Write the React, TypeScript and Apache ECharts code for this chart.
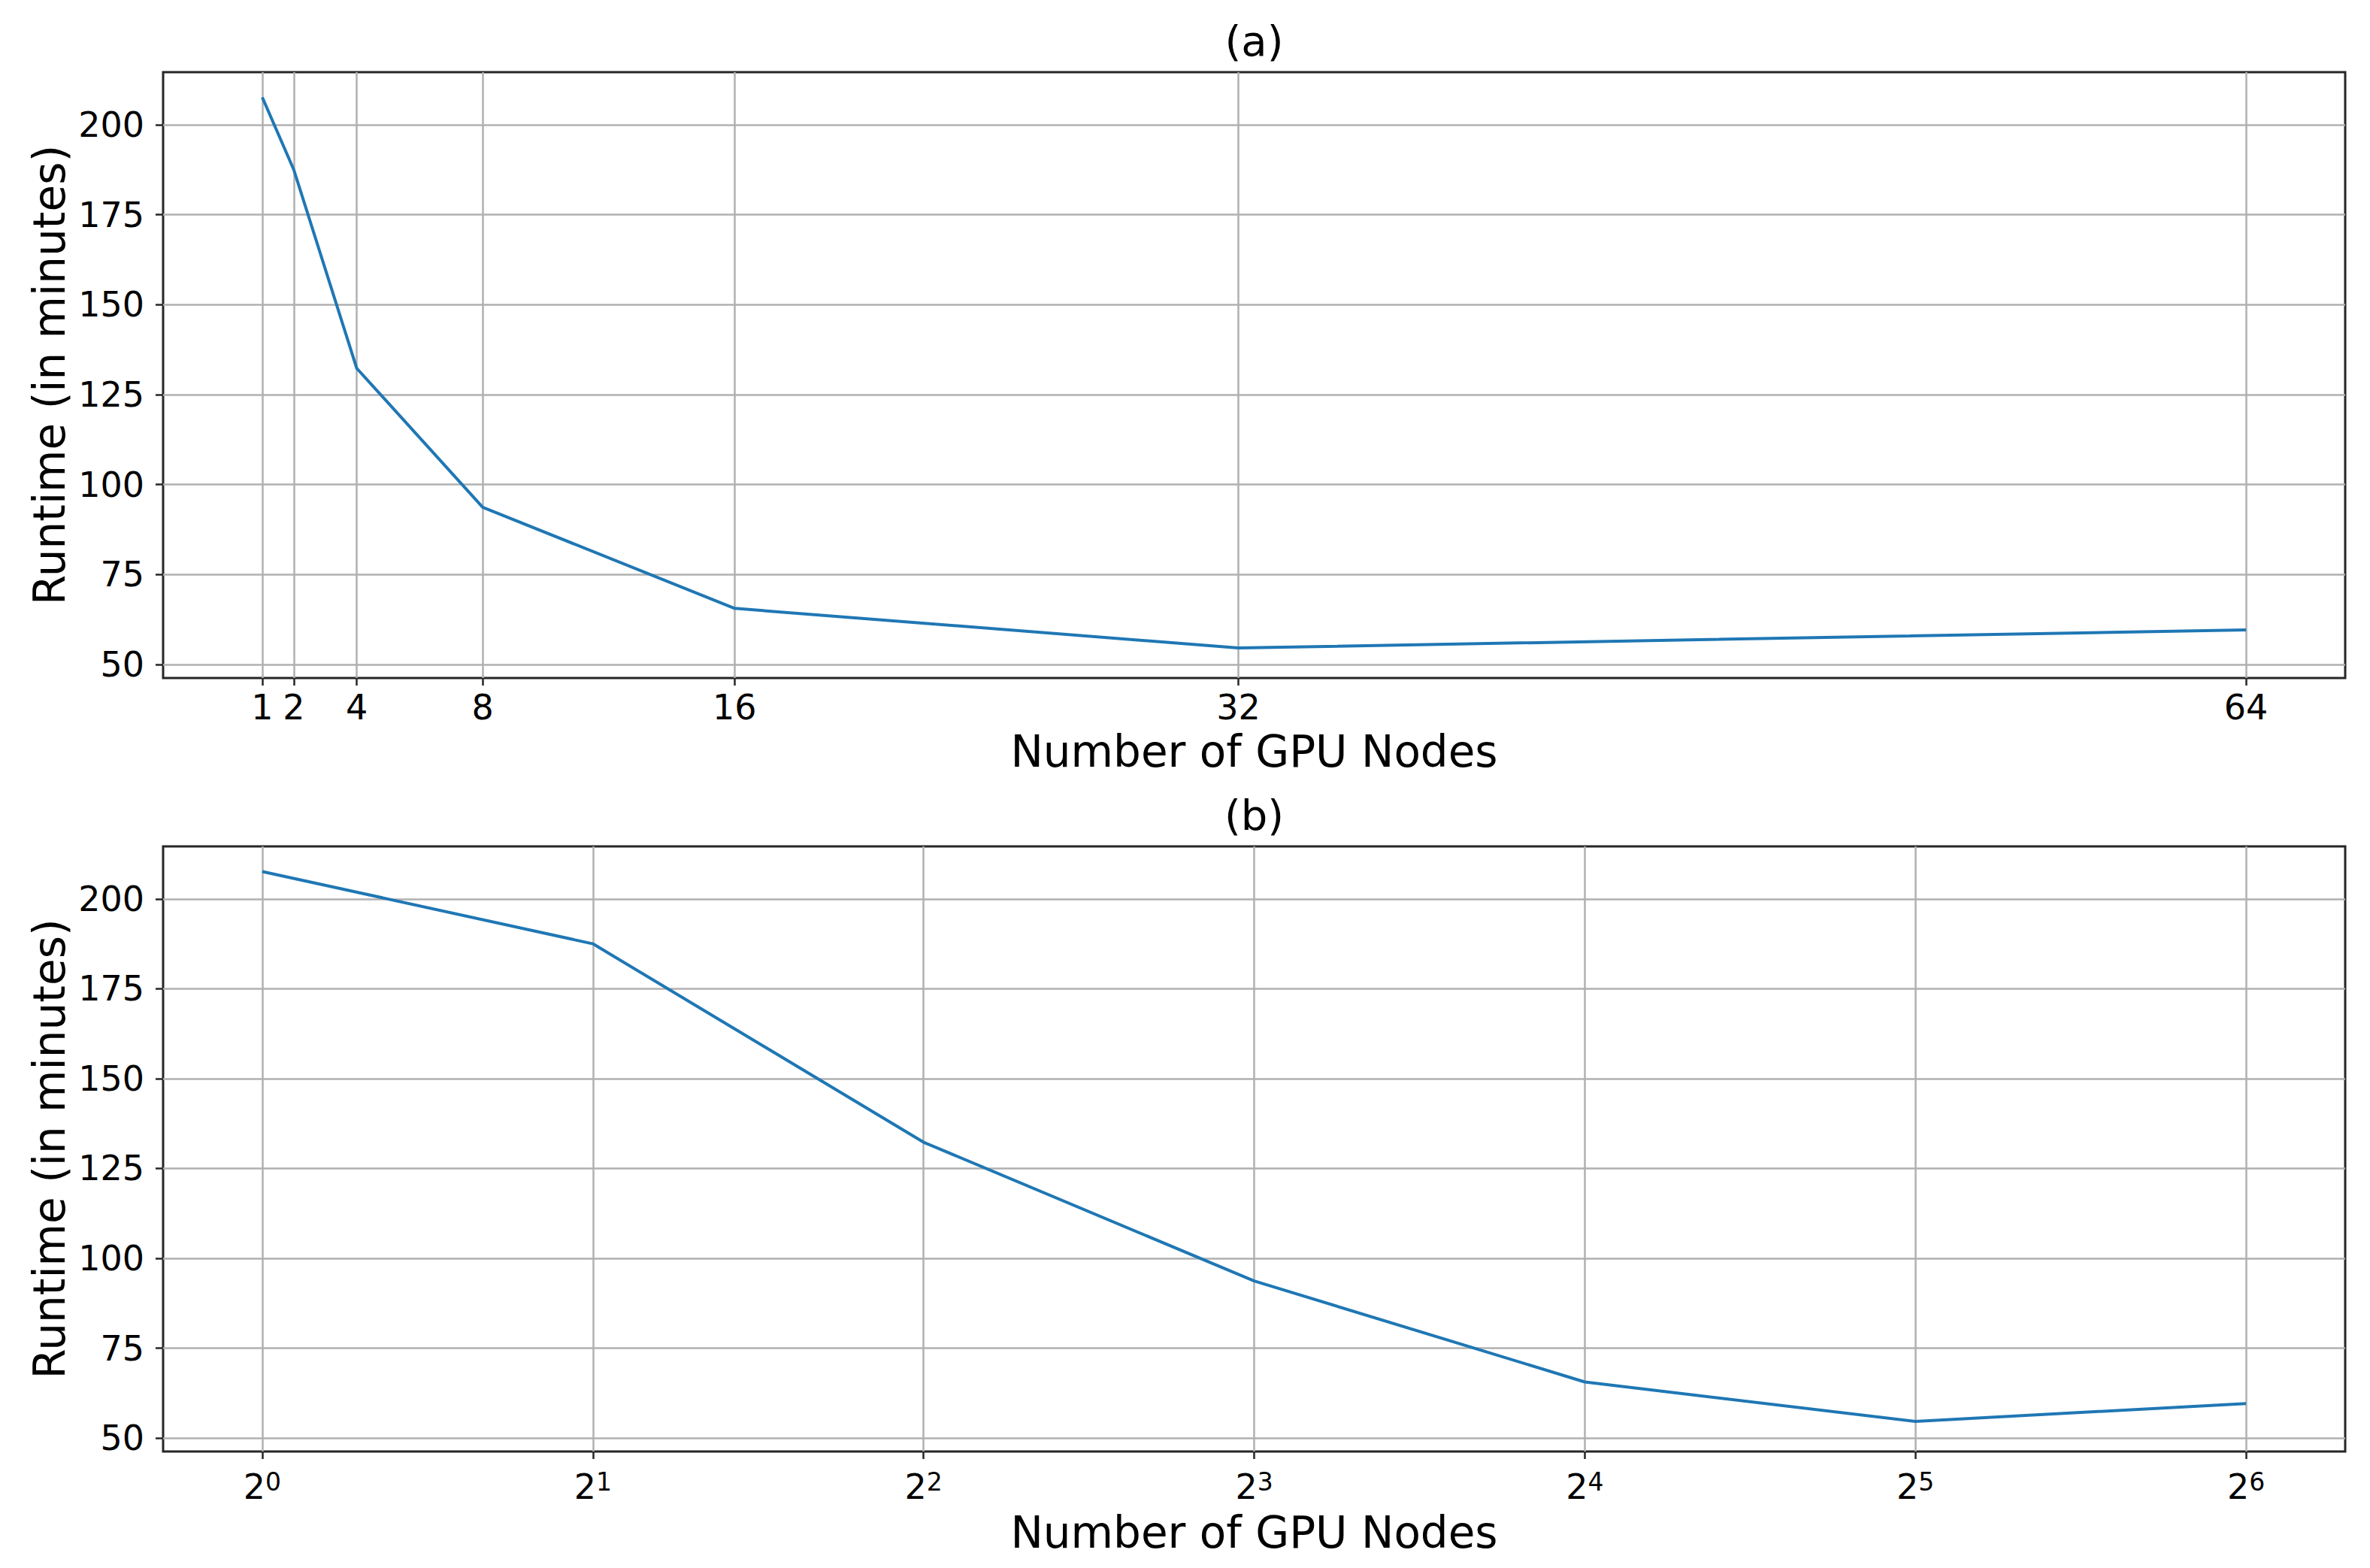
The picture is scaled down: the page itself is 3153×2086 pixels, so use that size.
import React, { useEffect, useRef } from "react";
import * as echarts from "echarts";

// ---- data ----
const gpuNodes = [1, 2, 4, 8, 16, 32, 64];
const runtimeMinutes = [207.6, 187.5, 132.3, 93.7, 65.6, 54.6, 59.6];
const yTickValues = [50, 75, 100, 125, 150, 175, 200];
const xTickValues = [1, 2, 4, 8, 16, 32, 64];
const panelTitles = ["(a)", "(b)"];
const xAxisTitle = "Number of GPU Nodes";
const yAxisTitle = "Runtime (in minutes)";

// ---- styling ----
const W = 3153;
const H = 2086;
const FONT = "'DejaVu Sans', 'Liberation Sans', sans-serif";
const LINE_COLOR = "#1f77b4";
const GRID_COLOR = "#b0b0b0";
const SPINE_COLOR = "#262626";
const TICK_FONT = 46;
const LABEL_FONT = 58;

const PLOT_LEFT = 217;
const PLOT_WIDTH = 2903;
const TOP_A = 96;
const HEIGHT_A = 806;
const TOP_B = 1126;
const HEIGHT_B = 805;

export default function App() {
  const ref = useRef<HTMLDivElement>(null);

  useEffect(() => {
    if (!ref.current) return;
    const chart = echarts.init(ref.current, null, { renderer: "svg" });

    const seriesData = gpuNodes.map((n, i) => [n, runtimeMinutes[i]]);
    const tickStyle = {
      show: true,
      inside: false,
      length: 10,
      lineStyle: { color: SPINE_COLOR, width: 2.5 },
    };
    const hiddenAxisLine = { show: false, onZero: false };
    const labelBase = { color: "#000", fontSize: TICK_FONT, fontFamily: FONT };
    const gridMarkLine = (xs: number[]) => ({
      silent: true,
      symbol: ["none", "none"],
      label: { show: false },
      emphasis: { disabled: true },
      lineStyle: { color: GRID_COLOR, width: 2.5, type: "solid" },
      z: 1,
      animation: false,
      data: [
        ...xs.map((v) => ({ xAxis: v })),
        ...yTickValues.map((v) => ({ yAxis: v })),
      ],
    });

    const yAxisCommon = (gridIndex: number) => ({
      type: "value",
      gridIndex,
      min: 46.25,
      max: 214.6,
      axisLine: hiddenAxisLine,
      splitLine: { show: false },
      axisTick: { ...tickStyle, customValues: yTickValues },
      axisLabel: { ...labelBase, margin: 25, customValues: yTickValues },
    });

    const textEl = (
      text: string,
      x: number,
      y: number,
      fontSize: number,
      rotation = 0
    ) => ({
      type: "text",
      x,
      y,
      rotation,
      silent: true,
      style: {
        text,
        fill: "#000",
        fontSize,
        fontFamily: FONT,
        textAlign: "center",
        textVerticalAlign: "middle",
        align: "center",
        verticalAlign: "middle",
      },
    });

    const centerX = PLOT_LEFT + PLOT_WIDTH / 2;

    const option: any = {
      animation: false,
      backgroundColor: "#ffffff",
      grid: [
        {
          left: PLOT_LEFT,
          top: TOP_A,
          width: PLOT_WIDTH,
          height: HEIGHT_A,
          show: true,
          borderColor: SPINE_COLOR,
          borderWidth: 3,
          backgroundColor: "transparent",
        },
        {
          left: PLOT_LEFT,
          top: TOP_B,
          width: PLOT_WIDTH,
          height: HEIGHT_B,
          show: true,
          borderColor: SPINE_COLOR,
          borderWidth: 3,
          backgroundColor: "transparent",
        },
      ],
      xAxis: [
        {
          type: "value",
          gridIndex: 0,
          min: -2.15,
          max: 67.15,
          axisLine: hiddenAxisLine,
          splitLine: { show: false },
          axisTick: { ...tickStyle, customValues: xTickValues },
          axisLabel: { ...labelBase, margin: 16, customValues: xTickValues },
        },
        {
          type: "log",
          logBase: 2,
          gridIndex: 1,
          min: Math.pow(2, -0.3),
          max: Math.pow(2, 6.3),
          axisLine: hiddenAxisLine,
          splitLine: { show: false },
          axisTick: tickStyle,
          axisLabel: {
            margin: 24,
            showMinLabel: false,
            showMaxLabel: false,
            formatter: (v: number) => {
              const e = Math.log2(v);
              const k = Math.round(e);
              if (Math.abs(e - k) > 1e-6) return "";
              return `{b|2}{s|${k}}`;
            },
            rich: {
              b: {
                fontSize: TICK_FONT,
                fontFamily: FONT,
                color: "#000",
                lineHeight: 46,
                verticalAlign: "bottom",
              },
              s: {
                fontSize: 33,
                fontFamily: FONT,
                color: "#000",
                lineHeight: 22,
                verticalAlign: "top",
              },
            },
          },
        },
      ],
      yAxis: [yAxisCommon(0), yAxisCommon(1)],
      series: [
        {
          type: "line",
          xAxisIndex: 0,
          yAxisIndex: 0,
          data: seriesData,
          symbol: "none",
          showSymbol: false,
          lineStyle: { color: LINE_COLOR, width: 4 },
          z: 3,
          markLine: gridMarkLine(xTickValues),
        },
        {
          type: "line",
          xAxisIndex: 1,
          yAxisIndex: 1,
          data: seriesData,
          symbol: "none",
          showSymbol: false,
          lineStyle: { color: LINE_COLOR, width: 4 },
          z: 3,
          markLine: gridMarkLine(xTickValues),
        },
      ],
      graphic: [
        textEl(panelTitles[0], centerX, 54, 56),
        textEl(panelTitles[1], centerX, TOP_B - 42, 56),
        textEl(xAxisTitle, centerX, 1000, LABEL_FONT),
        textEl(xAxisTitle, centerX, 2039, LABEL_FONT),
        textEl(yAxisTitle, 66, TOP_A + HEIGHT_A / 2, LABEL_FONT, Math.PI / 2),
        textEl(yAxisTitle, 66, TOP_B + HEIGHT_B / 2, LABEL_FONT, Math.PI / 2),
      ],
    };

    chart.setOption(option);
    return () => {
      chart.dispose();
    };
  }, []);

  return (
    <div
      ref={ref}
      style={{
        position: "absolute",
        left: 0,
        top: 0,
        width: W,
        height: H,
        background: "#fff",
      }}
    />
  );
}
